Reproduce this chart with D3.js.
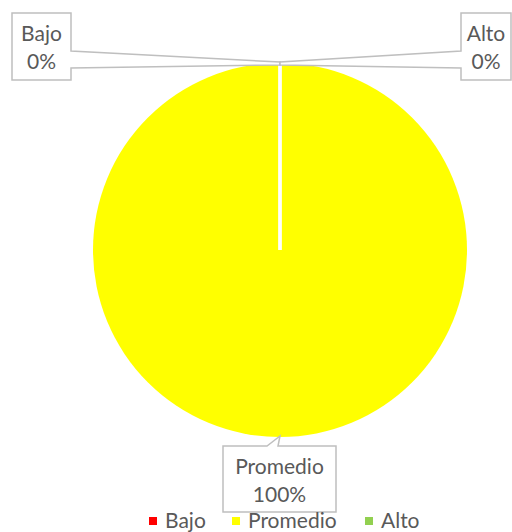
<!DOCTYPE html>
<html>
<head>
<meta charset="utf-8">
<script src="https://cdn.jsdelivr.net/npm/d3@7"></script>
<style>
  body { margin: 0; background: #fff; }
  text { font-family: Lato, "Open Sans", sans-serif; }
</style>
</head>
<body>
<div id="chart"></div>
<script>
// chart data
var categories = ["Bajo", "Promedio", "Alto"];
var values = [0, 100, 0];
var percentLabels = ["0%", "100%", "0%"];
var colors = ["#FF0000", "#FFFF00", "#92D050"];

var w = 512, h = 532;
var cx = 280, cy = 250, r = 187;

var svg = d3.select("#chart")
  .append("svg")
  .attr("width", w)
  .attr("height", h);

var pie = d3.pie().sort(null).value(function(d){ return d; });
var arcs = pie(values);
var arc = d3.arc().innerRadius(0).outerRadius(r);

var g = svg.append("g").attr("transform", "translate(" + cx + "," + cy + ")");

g.selectAll("path.slice")
  .data(arcs)
  .enter()
  .append("path")
  .attr("class", "slice")
  .attr("d", arc)
  .style("fill", function(d, i){ return colors[i]; });

// white slice borders
g.selectAll("line.border")
  .data(arcs)
  .enter()
  .append("line")
  .attr("x1", 0).attr("y1", 0)
  .attr("x2", function(d){ return r * Math.sin(d.startAngle); })
  .attr("y2", function(d){ return -r * Math.cos(d.startAngle); })
  .style("stroke", "#fff")
  .style("stroke-width", 3);

// callout boxes (layout only)
var boxes = [
  {x: 12, y: 13, w: 59, h: 67, side: "right"},
  {x: 223, y: 446, w: 113, h: 66, side: "top"},
  {x: 461, y: 13, w: 50, h: 67, side: "left"}
];

function tip(d){
  var a = (d.startAngle + d.endAngle) / 2;
  return [cx + (r - 2) * Math.sin(a), cy - (r - 2) * Math.cos(a)];
}

arcs.forEach(function(d, i){
  var b = boxes[i];
  var t = tip(d);
  var p;
  if (b.side == "right") {
    p = [[b.x, b.y], [b.x + b.w, b.y], [b.x + b.w, b.y + 38], [t[0], t[1] - 3],
         [t[0], t[1]], [b.x + b.w, b.y + 55], [b.x + b.w, b.y + b.h], [b.x, b.y + b.h]];
  } else if (b.side == "left") {
    p = [[b.x, b.y], [b.x + b.w, b.y], [b.x + b.w, b.y + b.h], [b.x, b.y + b.h],
         [b.x, b.y + 55], [t[0], t[1]], [t[0], t[1] - 3], [b.x, b.y + 38]];
  } else {
    p = [[b.x, b.y], [t[0] - 13, b.y], [t[0], t[1] + 1], [t[0] - 2, b.y],
         [b.x + b.w, b.y], [b.x + b.w, b.y + b.h], [b.x, b.y + b.h]];
  }
  svg.append("path")
    .attr("d", d3.line()(p) + "Z")
    .style("fill", "#fff")
    .style("stroke", "#BFBFBF")
    .style("stroke-width", 1.5);

  var tx = b.x + b.w / 2;
  svg.append("text")
    .attr("x", tx).attr("y", b.y + 28)
    .attr("text-anchor", "middle")
    .style("font-size", "21px")
    .style("fill", "#595959")
    .text(categories[i]);
  svg.append("text")
    .attr("x", tx).attr("y", b.y + 56)
    .attr("text-anchor", "middle")
    .style("font-size", "21px")
    .style("fill", "#595959")
    .text(percentLabels[i]);
});

// legend
var legendX = [149, 232, 365];
var legend = svg.append("g");
categories.forEach(function(c, i){
  legend.append("rect")
    .attr("x", legendX[i]).attr("y", 517)
    .attr("width", 8).attr("height", 8)
    .style("fill", colors[i]);
  legend.append("text")
    .attr("x", legendX[i] + 16).attr("y", 528)
    .style("font-size", "21px")
    .style("fill", "#595959")
    .text(c);
});
</script>
</body>
</html>
